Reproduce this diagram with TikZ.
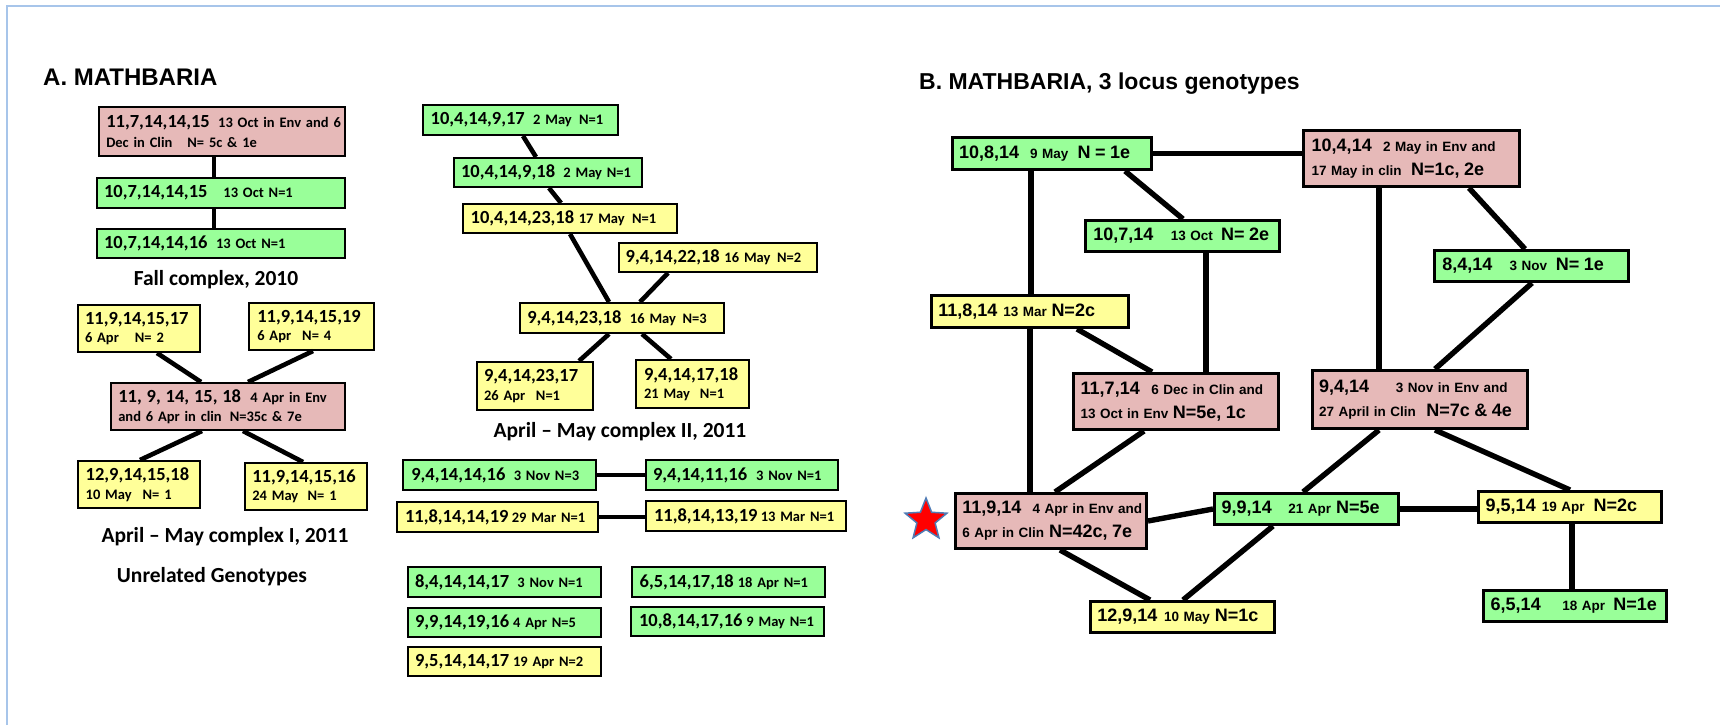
\documentclass[tikz,border=0pt]{standalone}
\usepackage{fontspec}
\setmainfont{Carlito}
\newfontfamily\arialB{Liberation Sans}
\usetikzlibrary{shapes.geometric}
\definecolor{pinkc}{HTML}{E6B9B8}
\definecolor{greenc}{HTML}{99FF99}
\definecolor{yellowc}{HTML}{FFFF99}
\definecolor{framec}{HTML}{A7C5EA}
\definecolor{starblue}{HTML}{4F7BB5}
\newcommand\szAb{\fontsize{18.5}{18.5}\selectfont}
\newcommand\szBb{\fontsize{18}{24}\selectfont}
\newcommand\gp[1]{\hspace*{#1pt}}
\newcommand\bxA[8]{%
  \pgfmathsetmacro\bxw{#5-#3-2.4}%
  \pgfmathsetmacro\bxh{#6-#4-2.4}%
  \pgfmathsetmacro\bxt{#5-#3-2*#7}%
  \pgfmathsetmacro\bxi{#7-1.2}%
  \node[boxA,fill=#2,minimum width=\bxw pt,minimum height=\bxh pt,text width=\bxt pt,inner xsep=\bxi pt] (#1) at ({(#3+#5)/2},{(#4+#6)/2}) {#8};}
\newcommand\bxB[8]{%
  \pgfmathsetmacro\bxw{#5-#3-3}%
  \pgfmathsetmacro\bxh{#6-#4-3}%
  \pgfmathsetmacro\bxt{#5-#3-2*#7}%
  \pgfmathsetmacro\bxi{#7-1.5}%
  \node[boxB,fill=#2,minimum width=\bxw pt,minimum height=\bxh pt,text width=\bxt pt,inner xsep=\bxi pt] (#1) at ({(#3+#5)/2},{(#4+#6)/2}) {#8};}
\begin{document}
\begin{tikzpicture}[x=1pt,y=-1pt,
  boxA/.style={draw=black,line width=2.4pt,inner ysep=0pt,align=left,font=\bfseries\fontsize{14.5}{18.5}\selectfont},
  boxB/.style={draw=black,line width=3pt,inner ysep=0pt,align=left,font=\arialB\bfseries\fontsize{13.5}{24}\selectfont},
  connA/.style={line width=4.6pt},
  connB/.style={line width=5.4pt},
  lblA/.style={font=\bfseries\fontsize{21.5}{24}\selectfont,inner sep=0pt,anchor=base},
  ttl/.style={font=\arialB\bfseries\fontsize{23}{26}\selectfont,inner sep=0pt,anchor=base west}]
\useasboundingbox (0,0) rectangle (1720,725);
\fill[white] (0,0) rectangle (1720,725);
\draw[framec,line width=1.5pt] (7,725) -- (7,6) -- (1720,6);

\node[ttl,font=\arialB\bfseries\fontsize{24}{26}\selectfont] (tA) at (43,85) {A. MATHBARIA};
\node[ttl] (tB) at (919,89) {B. MATHBARIA, 3 locus genotypes};

% Fall complex
\bxA{fA1}{pinkc}{98}{106}{346}{157}{8.3}{\mbox{{\szAb 11,7,14,14,15}\gp{8.4}13 Oct in Env and 6}\\[2pt]\mbox{Dec in Clin\gp{15}N= 5c \& 1e}}
\bxA{fA2}{greenc}{96}{177}{346}{209}{8}{\mbox{{\szAb 10,7,14,14,15}\gp{16}13 Oct N=1}}
\bxA{fA3}{greenc}{96}{228}{346}{259}{8}{\mbox{{\szAb 10,7,14,14,16}\gp{8.6}13 Oct N=1}}
\node[lblA] (lfall) at (216,285) {Fall complex, 2010};

% April-May complex I
\bxA{c1a}{yellowc}{77}{304}{201}{353}{8}{\mbox{\szAb 11,9,14,15,17}\\\mbox{6 Apr\gp{16}N= 2}}
\bxA{c1b}{yellowc}{248}{302}{375}{351}{9.3}{\mbox{\szAb 11,9,14,15,19}\\\mbox{6 Apr\gp{11}N= 4}}
\bxA{c1c}{pinkc}{110}{382}{346}{431}{8.3}{\mbox{{\szAb 11, 9, 14, 15, 18}\gp{9.3}4 Apr in Env}\\\mbox{and 6 Apr in clin\gp{8}N=35c \& 7e}}
\bxA{c1d}{yellowc}{77}{460}{201}{509}{8.7}{\mbox{\szAb 12,9,14,15,18}\\\mbox{10 May\gp{11}N= 1}}
\bxA{c1e}{yellowc}{244}{462}{368}{511}{8.3}{\mbox{\szAb 11,9,14,15,16}\\\mbox{24 May\gp{9.4}N= 1}}
\node[lblA] (lc1) at (225,542) {April – May complex I, 2011};
\node[lblA] (lun) at (212,582) {Unrelated Genotypes};

% April-May complex II
\bxA{c2a}{greenc}{422}{104}{619}{136}{8.7}{\mbox{{\szAb 10,4,14,9,17}\gp{8.4}2 May\gp{7.3}N=1}}
\bxA{c2b}{greenc}{453}{157}{643}{188}{8}{\mbox{{\szAb 10,4,14,9,18}\gp{8.3}2 May N=1}}
\bxA{c2c}{yellowc}{462}{203}{678}{234}{8.7}{\mbox{{\szAb 10,4,14,23,18}\gp{4.6}17 May\gp{7.3}N=1}}
\bxA{c2d}{yellowc}{618}{242}{818}{273}{7.7}{\mbox{{\szAb 9,4,14,22,18}\gp{4.7}16 May\gp{6.6}N=2}}
\bxA{c2e}{yellowc}{519}{302}{725}{334}{8.3}{\mbox{{\szAb 9,4,14,23,18}\gp{8.6}16 May\gp{6.7}N=3}}
\bxA{c2f}{yellowc}{476}{361}{594}{411}{8}{\mbox{\szAb 9,4,14,23,17}\\\mbox{26 Apr\gp{10.7}N=1}}
\bxA{c2g}{yellowc}{635}{359}{750}{409}{9}{\mbox{\szAb 9,4,14,17,18}\\\mbox{21 May\gp{10}N=1}}
\node[lblA] (lc2) at (620,437) {April – May complex II, 2011};

% Unrelated
\bxA{u1}{greenc}{402}{459}{597}{491}{9.3}{\mbox{{\szAb 9,4,14,14,16}\gp{8.4}3 Nov N=3}}
\bxA{u2}{greenc}{645}{459}{839}{491}{8}{\mbox{{\szAb 9,4,14,11,16}\gp{9}3 Nov N=1}}
\bxA{u3}{yellowc}{396}{501}{599}{533}{9}{\mbox{{\szAb 11,8,14,14,19}\gp{3.3}29 Mar N=1}}
\bxA{u4}{yellowc}{645}{500}{847}{532}{9}{\mbox{{\szAb 11,8,14,13,19}\gp{3.3}13 Mar N=1}}
\bxA{u5}{greenc}{407}{566}{602}{598}{8}{\mbox{{\szAb 8,4,14,14,17}\gp{8.4}3 Nov N=1}}
\bxA{u6}{greenc}{407}{607}{602}{638}{8}{\mbox{{\szAb 9,9,14,19,16}\gp{4}4 Apr N=5}}
\bxA{u7}{yellowc}{407}{646}{602}{677}{8}{\mbox{{\szAb 9,5,14,14,17}\gp{4}19 Apr N=2}}
\bxA{u8}{greenc}{631}{566}{826}{598}{8.7}{\mbox{{\szAb 6,5,14,17,18}\gp{4}18 Apr N=1}}
\bxA{u9}{greenc}{630}{606}{825}{637}{9}{\mbox{{\szAb 10,8,14,17,16}\gp{4}9 May N=1}}

% Part B
\bxB{b1}{greenc}{951}{136}{1153}{171}{8}{\mbox{{\szBb 10,8,14}\gp{11}9 May\gp{9.3}{\szBb N = 1e}}}
\bxB{b2}{pinkc}{1302}{129}{1521}{188}{9.7}{\mbox{{\szBb 10,4,14}\gp{11.3}2 May in Env and}\\\mbox{17 May in clin\gp{9.3}{\szBb N=1c, 2e}}}
\bxB{b3}{greenc}{1084}{219}{1281}{253}{9.3}{\mbox{{\szBb 10,7,14}\gp{17.4}13 Oct\gp{8.4}{\szBb N= 2e}}}
\bxB{b4}{greenc}{1433}{249}{1630}{283}{9.3}{\mbox{{\szBb 8,4,14}\gp{17.3}3 Nov\gp{8.6}{\szBb N= 1e}}}
\bxB{b5}{yellowc}{930}{294}{1130}{329}{8.3}{\mbox{{\szBb 11,8,14}\gp{6}13 Mar\gp{4.6}{\szBb N=2c}}}
\bxB{b6}{pinkc}{1072}{372}{1280}{431}{8.7}{\mbox{{\szBb 11,7,14}\gp{11.7}6 Dec in Clin and}\\\mbox{13 Oct in Env\gp{4.4}{\szBb N=5e, 1c}}}
\bxB{b7}{pinkc}{1311}{369}{1529}{430}{8}{\mbox{{\szBb 9,4,14}\gp{26.7}3 Nov in Env and}\\\mbox{27 April in Clin\gp{10.7}{\szBb N=7c \& 4e}}}
\bxB{b8}{pinkc}{954}{492}{1148}{550}{8.3}{\mbox{{\szBb 11,9,14}\gp{11.3}4 Apr in Env and}\\\mbox{6 Apr in Clin\gp{5}{\szBb N=42c, 7e}}}
\bxB{b9}{greenc}{1213}{492}{1400}{526}{8.7}{\mbox{{\szBb 9,9,14}\gp{16.6}21 Apr\gp{5}{\szBb N=5e}}}
\bxB{b10}{yellowc}{1477}{490}{1663}{524}{8.7}{\mbox{{\szBb 9,5,14}\gp{6}19 Apr\gp{9}{\szBb N=2c}}}
\bxB{b11}{yellowc}{1089}{600}{1276}{634}{8.3}{\mbox{{\szBb 12,9,14}\gp{6.7}10 May\gp{5}{\szBb N=1c}}}
\bxB{b12}{greenc}{1482}{589}{1668}{623}{8.7}{\mbox{{\szBb 6,5,14}\gp{21.6}18 Apr\gp{8.3}{\szBb N=1e}}}

\node[star,star points=5,star point ratio=2.3,minimum size=44pt,inner sep=0pt,fill=red,draw=starblue,line width=1.5pt] (star) at (926,520) {};

% connectors A
\draw[connA] (214,0 |- fA1.south) -- (214,0 |- fA2.north);
\draw[connA] (214,0 |- fA2.south) -- (214,0 |- fA3.north);
\draw[connA] (157,0 |- c1a.south) -- (201,0 |- c1c.north);
\draw[connA] (313,0 |- c1b.south) -- (248,0 |- c1c.north);
\draw[connA] (202,0 |- c1c.south) -- (140,0 |- c1d.north);
\draw[connA] (243,0 |- c1c.south) -- (303,0 |- c1e.north);
\draw[connA] (523,0 |- c2a.south) -- (536,0 |- c2b.north);
\draw[connA] (549,0 |- c2b.south) -- (561,0 |- c2c.north);
\draw[connA] (570,0 |- c2c.south) -- (609,0 |- c2e.north);
\draw[connA] (668,0 |- c2d.south) -- (640,0 |- c2e.north);
\draw[connA] (609,0 |- c2e.south) -- (579,0 |- c2f.north);
\draw[connA] (642,0 |- c2e.south) -- (671,0 |- c2g.north);
\draw[connA] (u1.east) -- (u1.east -| u2.west);
\draw[connA] (u3.east) -- (u3.east -| u4.west);

% connectors B
\draw[connB] (b1.east) -- (b1.east -| b2.west);
\draw[connB] (1031,0 |- b1.south) -- (1031,0 |- b5.north);
\draw[connB] (1030,0 |- b5.south) -- (1030,0 |- b8.north);
\draw[connB] (1125,0 |- b1.south) -- (1183,0 |- b3.north);
\draw[connB] (1206,0 |- b3.south) -- (1206,0 |- b6.north);
\draw[connB] (1077,0 |- b5.south) -- (1152,0 |- b6.north);
\draw[connB] (1379,0 |- b2.south) -- (1379,0 |- b7.north);
\draw[connB] (1469,0 |- b2.south) -- (1525,0 |- b4.north);
\draw[connB] (1532,0 |- b4.south) -- (1435,0 |- b7.north);
\draw[connB] (1144,0 |- b6.south) -- (1055,0 |- b8.north);
\draw[connB] (b8.east) -- (b9.west);
\draw[connB] (1060,0 |- b8.south) -- (1150,0 |- b11.north);
\draw[connB] (1273,0 |- b9.south) -- (1183,0 |- b11.north);
\draw[connB] (1379,0 |- b7.south) -- (1303,0 |- b9.north);
\draw[connB] (b9.east) -- (b9.east -| b10.west);
\draw[connB] (1435,0 |- b7.south) -- (1570,0 |- b10.north);
\draw[connB] (1572,0 |- b10.south) -- (1572,0 |- b12.north);
\end{tikzpicture}
\end{document}
